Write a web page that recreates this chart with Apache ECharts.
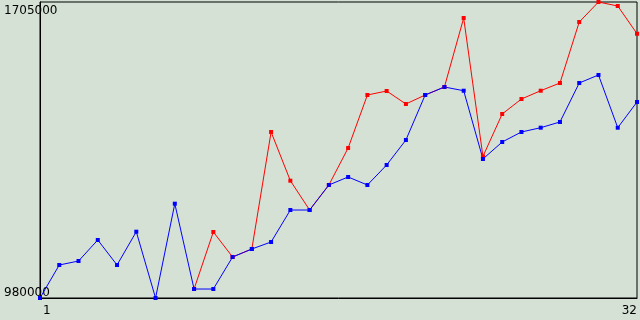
<!DOCTYPE html>
<html><head><meta charset="utf-8">
<script src="https://cdn.jsdelivr.net/npm/echarts@6/dist/echarts.min.js"></script>
<style>html,body{margin:0;padding:0;background:#d4e1d4}#c{width:640px;height:320px}</style>
</head><body><div id="c"></div>
<script>
var categories = [];
for (var i = 1; i <= 32; i++) categories.push(String(i));
var blueValues = [980000,1060800,1070600,1122100,1060800,1142400,980000,1211000,1002000,1002000,1080400,1100000,1117200,1195500,1195500,1256800,1276400,1256800,1305800,1367000,1477200,1496800,1487700,1320500,1362100,1386600,1397100,1411100,1506600,1526200,1397100,1460100];
var redValues = [null,null,null,null,null,null,null,null,1002000,1141700,1080400,1100000,1386600,1267300,1195500,1256800,1347400,1477200,1487000,1455200,1477200,1496800,1665800,1326800,1430700,1467400,1487700,1506600,1656000,1705000,1695200,1627300];
var yMin = 980000, yMax = 1705000;

var chart = echarts.init(document.getElementById('c'), null, {renderer:'canvas'});
chart.setOption({
  backgroundColor: '#d4e1d4',
  animation: false,
  textStyle: {fontFamily: 'DejaVu Sans'},
  grid: {left: 40, right: 1, top: 2, bottom: 22, show: true, borderColor: '#000', borderWidth: 1, backgroundColor: 'transparent'},
  xAxis: {
    type: 'category', data: categories, boundaryGap: false,
    axisLine: {lineStyle: {color: '#000', width: 1}},
    axisTick: {show: false},
    splitLine: {show: false},
    axisLabel: {
      color: '#000', fontSize: 12, fontFamily: 'DejaVu Sans', margin: 7,
      interval: function (idx) { return idx === 0 || idx === categories.length - 1; },
      alignMinLabel: 'left', alignMaxLabel: 'right',
      formatter: function (v, idx) { return idx === 0 ? '{f|' + v + '}' : v; },
      rich: {f: {color: '#000', fontSize: 12, fontFamily: 'DejaVu Sans', padding: [0, 0, 0, 3]}}
    }
  },
  yAxis: {
    type: 'value', min: yMin, max: yMax, interval: yMax - yMin,
    axisLine: {show: true, lineStyle: {color: '#000', width: 1}},
    axisTick: {show: false},
    splitLine: {show: false},
    axisLabel: {
      color: '#000', fontSize: 12, fontFamily: 'DejaVu Sans', align: 'left', margin: 36,
      formatter: function (v) { return v >= yMax ? '{t|' + v + '}' : '{b|' + v + '}'; },
      rich: {
        t: {color: '#000', fontSize: 12, fontFamily: 'DejaVu Sans', padding: [18, 0, 0, 0]},
        b: {color: '#000', fontSize: 12, fontFamily: 'DejaVu Sans', padding: [0, 0, 10, 0]}
      }
    }
  },
  series: [
    {type: 'line', data: redValues, symbol: 'rect', symbolSize: 4, showSymbol: true,
     lineStyle: {color: '#ff0000', width: 1}, itemStyle: {color: '#ff0000'}, connectNulls: false},
    {type: 'line', data: blueValues, symbol: 'rect', symbolSize: 4, showSymbol: true,
     lineStyle: {color: '#0000ff', width: 1}, itemStyle: {color: '#0000ff'}}
  ]
});
</script></body></html>
